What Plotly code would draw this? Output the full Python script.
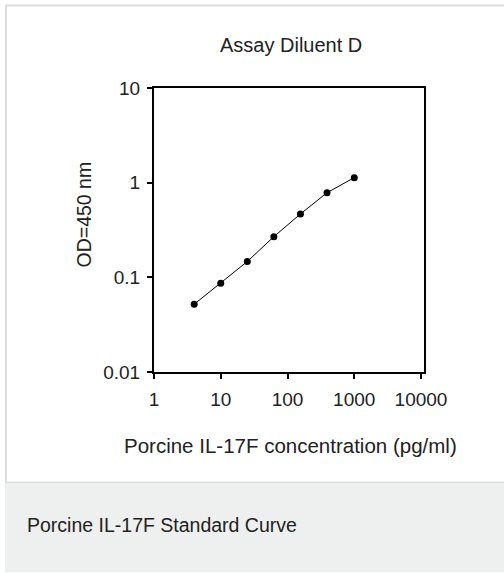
import plotly.graph_objects as go

# Data
concentration = [4, 10, 25, 62.5, 156.25, 390.6, 1000]
od450 = [0.052, 0.0865, 0.147, 0.269, 0.467, 0.783, 1.13]
x_tickvals = [1, 10, 100, 1000, 10000]
x_ticktext = ["1", "10", "100", "1000", "10000"]
y_tickvals = [0.01, 0.1, 1, 10]
y_ticktext = ["0.01", "0.1", "1", "10"]

W, H = 504, 573
L, R, T, B = 154, 424, 88, 372

def px(x):
    return (x - L) / (R - L)

def py(y):
    return (B - y) / (B - T)

FONT = "Liberation Sans, Arial, sans-serif"
TXT = "#222222"

fig = go.Figure()
fig.add_trace(go.Scatter(
    x=concentration, y=od450, mode="lines+markers",
    line=dict(color="black", width=1),
    marker=dict(color="black", size=7, symbol="circle"),
    showlegend=False, hoverinfo="skip",
))

fig.update_layout(
    width=W, height=H,
    margin=dict(l=L, r=W - R, t=T, b=H - B, pad=0),
    paper_bgcolor="white", plot_bgcolor="white",
    font=dict(family=FONT, color=TXT),
    xaxis=dict(
        type="log", range=[0, 4.045], showgrid=False, zeroline=False,
        showline=True, linecolor="black", linewidth=2, mirror=True,
        ticks="outside", ticklen=5, tickwidth=1.5, tickcolor="black",
        tickvals=x_tickvals, ticktext=x_ticktext, ticklabelstandoff=4,
        tickfont=dict(size=19, color=TXT),
    ),
    yaxis=dict(
        type="log", range=[-2, 1], showgrid=False, zeroline=False,
        showline=True, linecolor="black", linewidth=2, mirror=True,
        ticks="outside", ticklen=5, tickwidth=1.5, tickcolor="black",
        tickvals=y_tickvals, ticktext=y_ticktext, ticklabelstandoff=3,
        tickfont=dict(size=19, color=TXT),
    ),
    shapes=[
        # outer panel frame
        dict(type="rect", xref="paper", yref="paper", layer="below",
             x0=px(6), x1=px(520), y0=py(482.5), y1=py(5.5),
             line=dict(color="#dddddd", width=2), fillcolor="white"),
        # caption area
        dict(type="rect", xref="paper", yref="paper", layer="below",
             x0=px(5), x1=px(520), y0=py(572), y1=py(483.5),
             line=dict(width=0), fillcolor="#eef0ef"),
    ],
    annotations=[
        dict(text="Assay Diluent D", xref="paper", yref="paper",
             x=px(291), y=py(45), xanchor="center", yanchor="middle",
             showarrow=False, font=dict(size=20, color=TXT)),
        dict(text="OD=450 nm", xref="paper", yref="paper",
             x=px(83.5), y=py(215), xanchor="center", yanchor="middle",
             textangle=-90, showarrow=False, font=dict(size=19.5, color=TXT)),
        dict(text="Porcine IL-17F concentration (pg/ml)", xref="paper", yref="paper",
             x=px(290), y=py(446), xanchor="center", yanchor="middle",
             showarrow=False, font=dict(size=20.5, color=TXT)),
        dict(text="Porcine IL-17F Standard Curve", xref="paper", yref="paper",
             x=px(25), y=py(525), xanchor="left", yanchor="middle",
             showarrow=False, font=dict(size=19.5, color=TXT)),
    ],
)

fig.write_html("out.html", config={"displayModeBar": False},
               post_script="document.body.style.margin='0';")
